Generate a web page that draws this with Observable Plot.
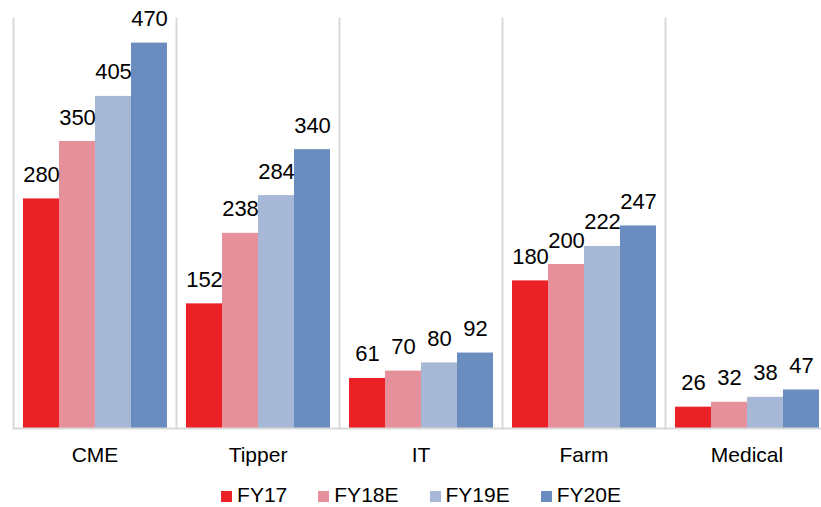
<!DOCTYPE html>
<html>
<head>
<meta charset="utf-8">
<script src="https://cdn.jsdelivr.net/npm/d3@7"></script>
<script src="https://cdn.jsdelivr.net/npm/@observablehq/plot@0.6"></script>
<style>
  html, body { margin: 0; padding: 0; background: #fff; overflow: hidden; }
  #wrap { position: relative; width: 821px; height: 507px; overflow: hidden; }
  #legend {
    position: absolute; left: 0; top: 483px; width: 842px; height: 24px;
    display: flex; justify-content: center; align-items: center;
    font-family: "Liberation Sans", Arial, sans-serif; font-size: 21px; line-height: 24px; color: #000;
  }
  #legend .item { display: flex; align-items: center; margin: 0 15.5px; }
  #legend .sw { width: 11px; height: 11px; margin-right: 5px; margin-top: 2px; }
</style>
</head>
<body>
<div id="wrap">
  <div id="chart"></div>
  <div id="legend"></div>
</div>
<script>
// Segments and forecast years
const categories = ["CME", "Tipper", "IT", "Farm", "Medical"];
const series = ["FY17", "FY18E", "FY19E", "FY20E"];
const fy17 = [280, 152, 61, 180, 26];
const fy18e = [350, 238, 70, 200, 32];
const fy19e = [405, 284, 80, 222, 38];
const fy20e = [470, 340, 92, 247, 47];
const colors = ["#ea2227", "#e5909a", "#a6b8d6", "#6b8cbf"];

const valuesBySeries = [fy17, fy18e, fy19e, fy20e];
const rows = [];
categories.forEach((c, i) => {
  series.forEach((s, j) => rows.push({category: c, series: s, value: valuesBySeries[j][i]}));
});

const font = "'Liberation Sans', Arial, sans-serif";

const chart = Plot.plot({
  width: 829,
  height: 470,
  marginLeft: 11,
  marginRight: 0,
  marginTop: 18,
  marginBottom: 42,
  style: {fontFamily: font, fontSize: "21px", color: "#000", background: "#fff", maxWidth: "none"},
  fx: {domain: categories, padding: 0, label: null, tickSize: 0, tickPadding: 19},
  x: {domain: series, paddingInner: 0, paddingOuter: 0.25, axis: null},
  y: {domain: [0, 500], axis: null},
  color: {domain: series, range: colors},
  marks: [
    Plot.frame({anchor: "left", stroke: "#d9d9d9", strokeWidth: 2}),
    Plot.barY(rows, {fx: "category", x: "series", y: "value", fill: "series"}),
    Plot.ruleY([0], {stroke: "#d9d9d9", strokeWidth: 2}),
    Plot.text(rows, {
      fx: "category", x: "series", y: "value", text: d => String(d.value),
      lineAnchor: "bottom", dy: -17, fontSize: 22, fill: "#000"
    })
  ]
});
document.getElementById("chart").appendChild(chart);

// Legend row below the chart
const legend = document.getElementById("legend");
series.forEach((s, i) => {
  const item = document.createElement("div");
  item.className = "item";
  const sw = document.createElement("span");
  sw.className = "sw";
  sw.style.background = colors[i];
  const label = document.createElement("span");
  label.textContent = s;
  item.appendChild(sw);
  item.appendChild(label);
  legend.appendChild(item);
});
</script>
</body>
</html>
